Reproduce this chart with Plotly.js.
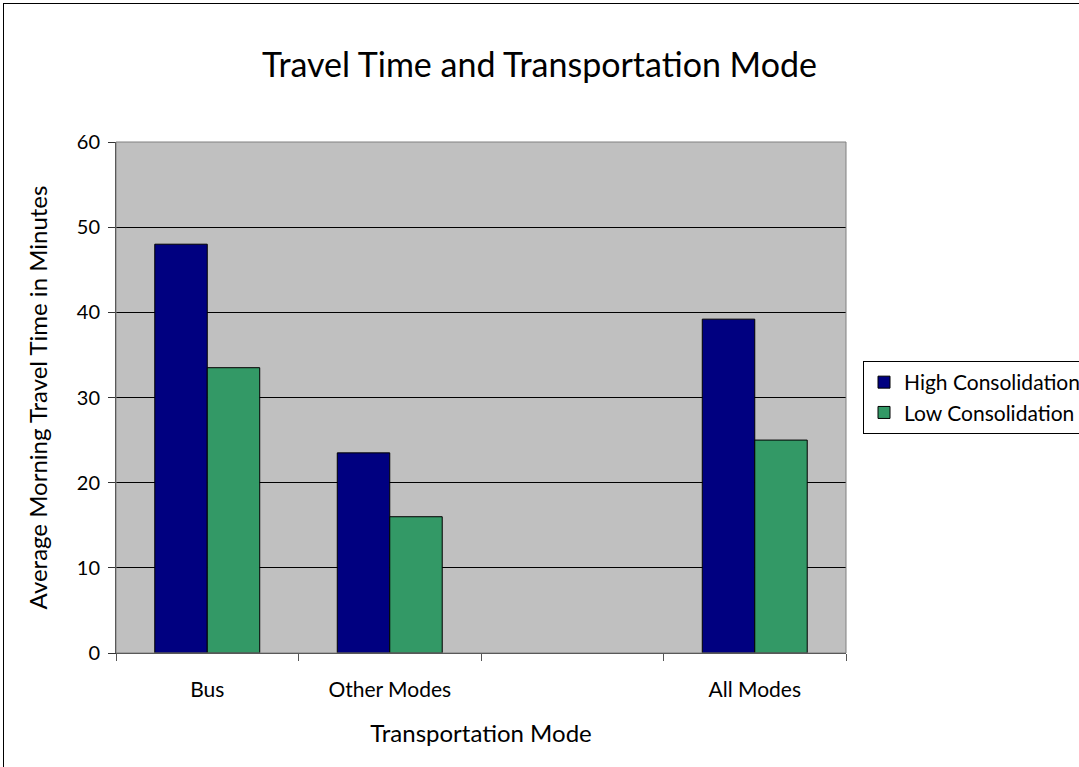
<!DOCTYPE html>
<html>
<head>
<meta charset="utf-8">
<script src="https://cdn.plot.ly/plotly-3.0.1.min.js"></script>
<style>
  html, body { margin: 0; padding: 0; overflow: hidden; background: #fff; }
  #frame { position: absolute; left: 3px; top: 3px; width: 1200px; height: 900px; border: 1px solid #000; box-sizing: border-box; pointer-events: none; z-index: 5; }
  #chart { position: absolute; left: 0; top: 0; width: 1079px; height: 767px; }
</style>
</head>
<body>
<div id="chart"></div>
<div id="frame"></div>
<script>
const categories = ['Bus', 'Other Modes', ' ', 'All Modes'];
const dataCategories = ['Bus', 'Other Modes', 'All Modes'];
const highConsolidation = [48, 23.5, 39.2];
const lowConsolidation = [33.5, 16, 25];
const yTicks = [0, 10, 20, 30, 40, 50, 60];

const FONT = 'Lato, "DejaVu Sans", sans-serif';

const traces = [
  {
    type: 'bar', name: 'High Consolidation', x: dataCategories, y: highConsolidation,
    legendgroup: 'a',
    marker: { color: '#000080', line: { color: '#000000', width: 1 } }
  },
  {
    type: 'bar', name: 'Low Consolidation', x: dataCategories, y: lowConsolidation,
    legendgroup: 'b',
    marker: { color: '#339966', line: { color: '#000000', width: 1 } }
  }
];

const plotW = 1079 - 116 - 233;

const layout = {
  width: 1079, height: 767,
  margin: { l: 116, r: 233, t: 142, b: 114, pad: 0, autoexpand: false },
  paper_bgcolor: '#ffffff',
  plot_bgcolor: '#c0c0c0',
  font: { family: FONT, color: '#000', size: 20 },
  title: {
    text: 'Travel Time and Transportation Mode',
    font: { family: FONT, size: 34, color: '#000' },
    x: 0.5, xanchor: 'center', y: 0.915, yanchor: 'middle'
  },
  barmode: 'group',
  bargap: 0.425,
  bargroupgap: 0,
  showlegend: true,
  legend: {
    x: (863 - 116) / plotW, xanchor: 'left',
    y: 0.5, yanchor: 'middle',
    font: { family: FONT, size: 21, color: '#000' },
    bgcolor: '#ffffff', bordercolor: '#000000', borderwidth: 1,
    traceorder: 'grouped',
    tracegroupgap: 0, itemwidth: 30
  },
  xaxis: {
    type: 'category',
    categoryorder: 'array', categoryarray: categories,
    range: [-0.5, 3.5],
    tickson: 'boundaries',
    ticks: 'outside', ticklen: 7, tickcolor: '#555', tickwidth: 1,
    ticklabelstandoff: 18,
    showline: true, linecolor: '#333', linewidth: 1,
    showgrid: false,
    tickfont: { family: FONT, size: 21 },
    title: { text: 'Transportation Mode', font: { family: FONT, size: 24 }, standoff: 24 },
    automargin: false
  },
  yaxis: {
    range: [0, 60],
    tickvals: yTicks,
    ticks: 'outside', ticklen: 7, tickcolor: '#333', tickwidth: 1,
    ticklabelstandoff: 4,
    showline: true, linecolor: '#333', linewidth: 1,
    showgrid: true, gridcolor: '#000000', gridwidth: 1,
    zeroline: false,
    tickfont: { family: FONT, size: 20 },
    title: { text: 'Average Morning Travel Time in Minutes', font: { family: FONT, size: 24 }, standoff: 22 },
    automargin: false
  },
  shapes: [
    { type: 'rect', xref: 'paper', yref: 'paper', x0: 0, x1: 1, y0: 0, y1: 1,
      line: { color: '#808080', width: 1 }, fillcolor: 'rgba(0,0,0,0)', layer: 'above' }
  ]
};

Plotly.newPlot('chart', traces, layout, { displayModeBar: false, staticPlot: true });
</script>
</body>
</html>
